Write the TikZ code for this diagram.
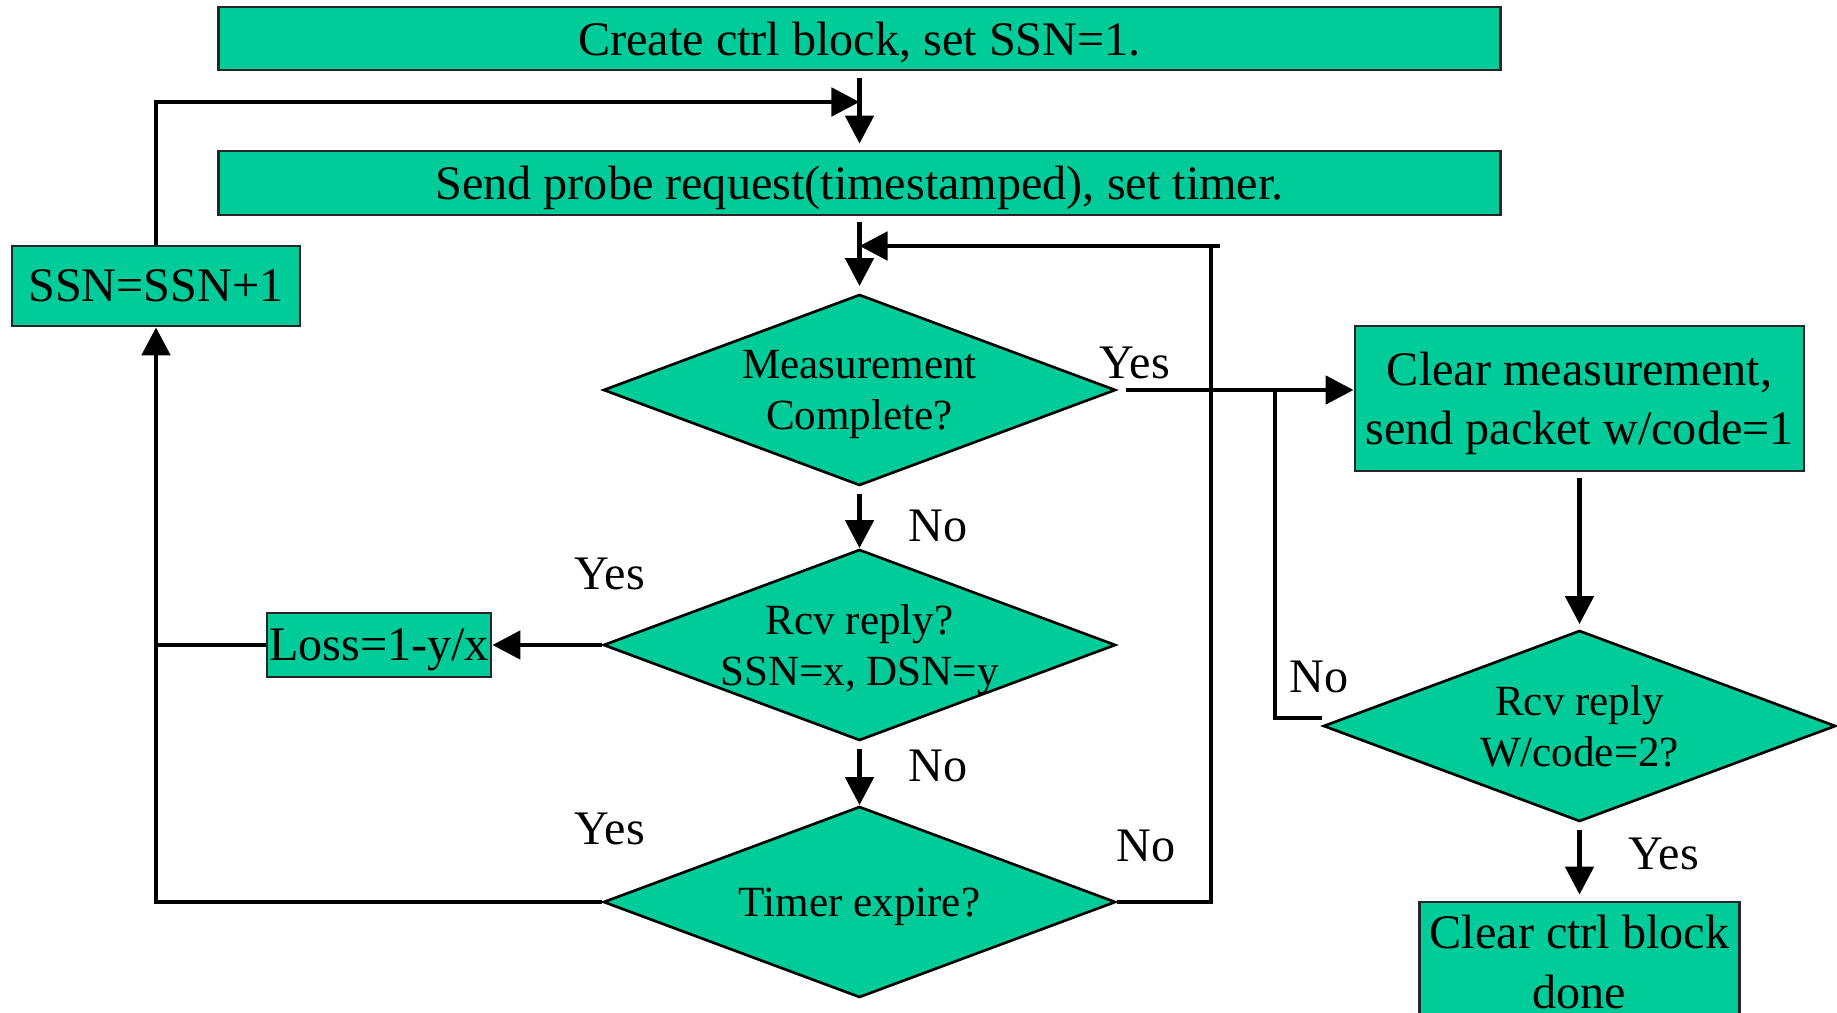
\documentclass[tikz,border=0pt]{standalone}
\usepackage{fontspec}
\setmainfont{Liberation Serif}
\usetikzlibrary{shapes.geometric,arrows.meta}
\definecolor{flowgreen}{RGB}{0,204,153}

\begin{document}
\begin{tikzpicture}
  [x=0.01cm,y=-0.01cm,
   box/.style={rectangle,draw=black!85,line width=0.75pt,fill=flowgreen,inner sep=0pt,align=center,font={\fontsize{13.7}{16.9}\selectfont}},
   dec/.style={diamond,draw=black,line width=0.75pt,fill=flowgreen,minimum width=5.12cm,minimum height=1.91cm,aspect=2.68,inner xsep=-0.25cm,inner ysep=0pt,text depth=-0.07cm,align=center,font={\fontsize{12.25}{14.7}\selectfont}},
   lbl/.style={inner sep=0pt,font={\fontsize{13.7}{16.9}\selectfont}},
   line/.style={line width=1.4pt},
   arr/.style={line width=1.4pt,-{Triangle[length=2.8mm,width=2.8mm]}}]
\useasboundingbox (0,0) rectangle (1837,1013);
\clip (0,0) rectangle (1837,1013);

\node (create)[box,minimum width=12.81cm,minimum height=0.63cm,text depth=-0.03cm] at (859.5,38.5) {Create ctrl block, set SSN=1.};
  \node (send)[box,minimum width=12.81cm,minimum height=0.64cm,text depth=0cm] at (859.5,183) {Send probe request(timestamped), set timer.};
  \node (ssn)[box,minimum width=2.88cm,minimum height=0.8cm,text depth=-0.04cm] at (156,286) {SSN=SSN+1};
  \node (meas)[dec] at (859.5,390) {Measurement\\Complete?};
  \node (rcv)[dec] at (859.5,645) {Rcv reply?\\SSN=x, DSN=y};
  \node (timer)[dec] at (859.5,902) {Timer expire?};
  \node (loss)[box,minimum width=2.24cm,minimum height=0.64cm,text depth=0cm] at (379,645) {Loss=1-y/x};
  \node (clrmeas)[box,minimum width=4.49cm,minimum height=1.45cm,text depth=-0.04cm] at (1579.5,398.5) {Clear measurement,\\send packet w/code=1};
  \node (rcvtwo)[dec] at (1579.5,726) {Rcv reply\\W/code=2?};
  \node (clrctrl)[box,minimum width=3.2cm,minimum height=1.2cm] at (1579.5,962) {Clear ctrl block\\done};

\node (yesa)[lbl] at (1135,363) {Yes};
  \node (noa)[lbl] at (938,526) {No};
  \node (yesb)[lbl] at (610,574) {Yes};
  \node (nob)[lbl] at (938,766) {No};
  \node (yesc)[lbl] at (610,829) {Yes};
  \node (noc)[lbl] at (1146,846) {No};
  \node (nod)[lbl] at (1319,677) {No};
  \node (yesd)[lbl] at (1664,854) {Yes};

\coordinate (ja) at (859.5,102);
  \coordinate (jb) at (859.5,246);
  \coordinate (ca) at (1211,246);
  \coordinate (cc) at (1220,246);
  \coordinate (cb) at (1275,390);

\draw[arr,shorten <=0.07cm,shorten >=0.06cm] (create) -- (send);
  \draw[arr] (ssn.north) |- (ja);
  \draw[arr,shorten <=0.06cm,shorten >=0.07cm] (send) -- (meas);
  \draw[line] (timer.east) -| (ca);
  \draw[arr] (cc) -- (jb);
  \draw[arr,shorten <=0.09cm] (meas.east) -- (meas.east -| clrmeas.west);
  \draw[line] ([yshift=0.08cm]rcvtwo.west) -| (cb);
  \draw[arr,shorten <=0.06cm,shorten >=0.05cm] (clrmeas) -- (rcvtwo);
  \draw[arr,shorten <=0.07cm] (meas) -- (rcv);
  \draw[arr,shorten <=0.07cm] (rcv) -- (timer);
  \draw[arr] (rcv.west) -- (loss.east);
  \draw[line] (loss.west) -- (loss.west -| ssn.south);
  \draw[arr] (timer.west) -| (ssn.south);
  \draw[arr,shorten <=0.07cm,shorten >=0.06cm] (rcvtwo) -- (clrctrl);
\end{tikzpicture}
\end{document}
